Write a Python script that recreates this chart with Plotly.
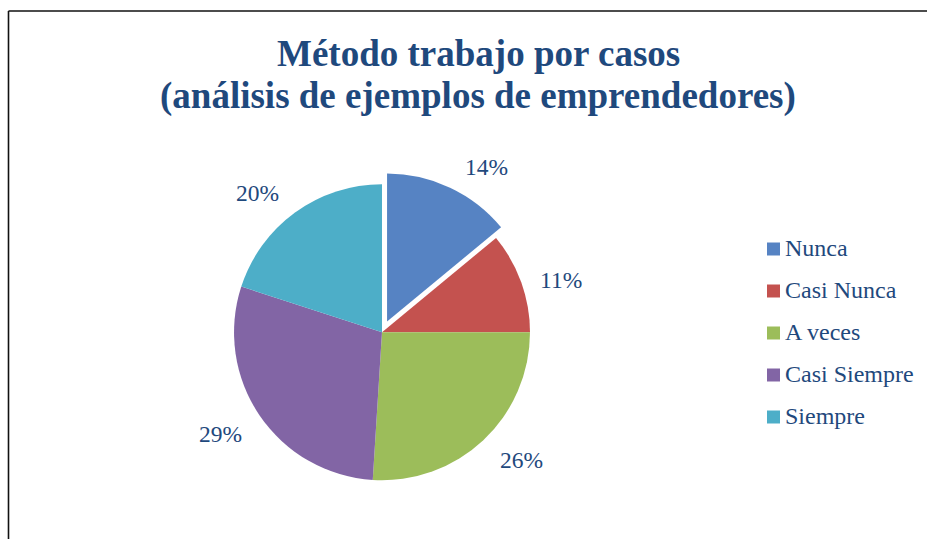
import math
import plotly.graph_objects as go

# ---- data ----
categories = ["Nunca", "Casi Nunca", "A veces", "Casi Siempre", "Siempre"]
percentages = [14, 11, 26, 29, 20]
pull_values = [0.08, 0, 0, 0, 0]
title_lines = ["Método trabajo por casos", "(análisis de ejemplos de emprendedores)"]

# ---- style ----
colors = ["#5683C3", "#C4524F", "#9CBD5A", "#8265A5", "#4DAEC8"]
text_color = "#1F497D"
W, H = 927, 539
FONT = "Liberation Serif, Times New Roman, serif"

# pie domain (paper fractions)
dom_x = [0.2397, 0.5845]
dom_y = [0.0870, 0.6800]

fig = go.Figure()
fig.add_trace(go.Pie(
    labels=categories,
    values=percentages,
    sort=False,
    direction="clockwise",
    rotation=0,
    pull=pull_values,
    marker=dict(colors=colors, line=dict(width=0)),
    textinfo="none",
    hovertemplate="%{label}: %{percent}<extra></extra>",
    showlegend=False,
    domain=dict(x=dom_x, y=dom_y),
))

# geometry of pie in pixels (same formula plotly uses)
box_w = W * (dom_x[1] - dom_x[0])
box_h = H * (dom_y[1] - dom_y[0])
max_pull = max(pull_values)
r = min(box_w, box_h) / (2 + 2 * max_pull)
cx = W * (dom_x[0] + dom_x[1]) / 2
cy = H * (1 - (dom_y[0] + dom_y[1]) / 2)

annotations = []
total = sum(percentages)
cum = 0
for v, p in zip(percentages, pull_values):
    mid = (cum + v / 2) / total
    cum += v
    th = 2 * math.pi * mid
    s, c = math.sin(th), math.cos(th)
    ox = cx + p * r * s
    oy = cy - p * r * c
    # anchor just outside the rim, label box pushed outward
    px = ox + 1.05 * r * s + 33 * (1 if s > 0 else -1)
    py = oy - 1.05 * r * c - (14 * (1 if c > 0 else -1) if abs(c) > 0.45 else 0)
    annotations.append(dict(
        x=px / W, y=1 - py / H, xref="paper", yref="paper",
        text=f"{round(100 * v / total)}%", showarrow=False,
        xanchor="center", yanchor="middle",
        font=dict(family=FONT, size=23.5, color=text_color),
    ))

# title (two lines)
for i, line in enumerate(title_lines):
    annotations.append(dict(
        x=478 / W, y=1 - (54 + 42 * i) / H, xref="paper", yref="paper",
        text=f"<b>{line}</b>", showarrow=False,
        xanchor="center", yanchor="middle",
        font=dict(family=FONT, size=37, color=text_color),
    ))

# manual legend
shapes = []
for i, (lab, col) in enumerate(zip(categories, colors)):
    yc = 249 + 42 * i
    shapes.append(dict(
        type="rect", xref="paper", yref="paper",
        x0=767 / W, x1=780 / W, y0=1 - (yc + 6.5) / H, y1=1 - (yc - 6.5) / H,
        fillcolor=col, line=dict(width=0),
    ))
    annotations.append(dict(
        x=783 / W, y=1 - (yc - 1) / H, xref="paper", yref="paper",
        text=lab, showarrow=False, xanchor="left", yanchor="middle",
        font=dict(family=FONT, size=24, color=text_color),
    ))

# outer frame (left and top edges visible)
frame = dict(color="#111111", width=1.6)
shapes.append(dict(type="line", xref="paper", yref="paper",
                   x0=8.5 / W, x1=8.5 / W, y0=0, y1=1 - 11 / H, line=frame))
shapes.append(dict(type="line", xref="paper", yref="paper",
                   x0=8.5 / W, x1=1, y0=1 - 11 / H, y1=1 - 11 / H, line=frame))

fig.update_layout(
    width=W, height=H,
    margin=dict(l=0, r=0, t=0, b=0),
    paper_bgcolor="white", plot_bgcolor="white",
    annotations=annotations, shapes=shapes,
)

fig.write_html(
    "out.html",
    config={"displayModeBar": False},
    post_script="document.body.style.margin='0';document.body.style.overflow='hidden';",
)
